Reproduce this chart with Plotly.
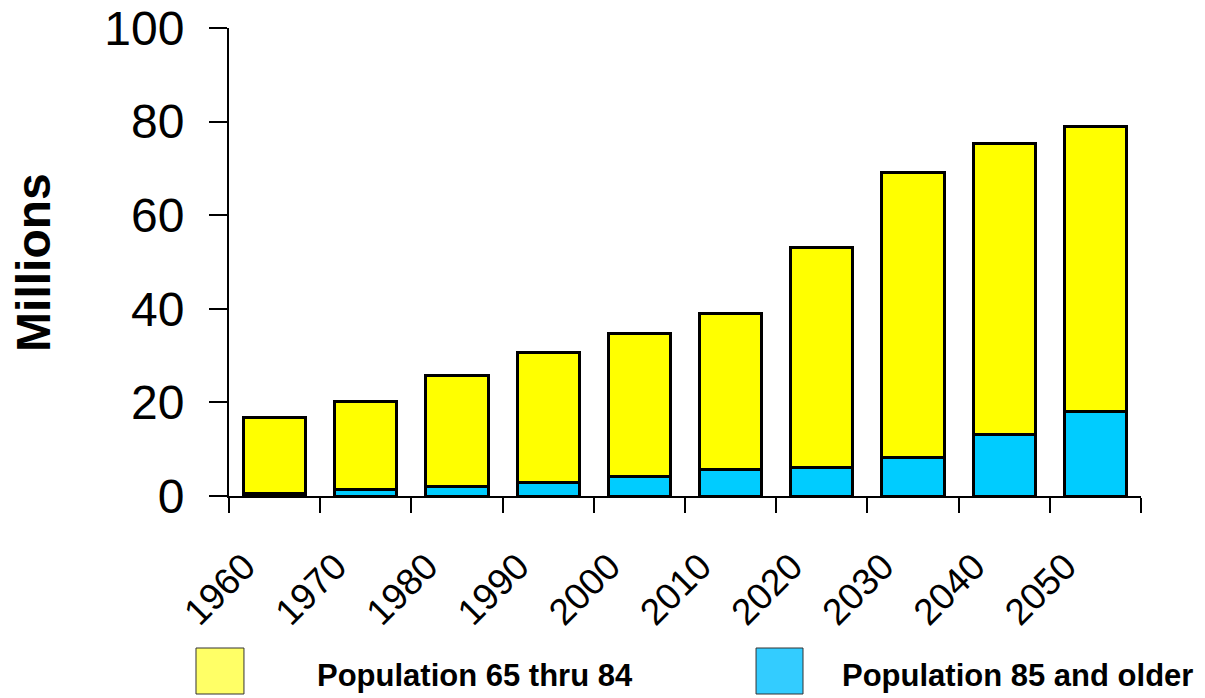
import plotly.graph_objects as go

years = ["1960", "1970", "1980", "1990", "2000", "2010", "2020", "2030", "2040", "2050"]
pop_85_older = [0.6, 1.4, 2.0, 2.8, 4.1, 5.6, 6.1, 8.2, 13.2, 18.0]
pop_65_84 = [16.1, 18.7, 23.7, 27.8, 30.7, 33.5, 46.9, 60.9, 62.2, 60.9]
y_ticks = [0, 20, 40, 60, 80, 100]

FONT = "Liberation Sans, Arial, sans-serif"

fig = go.Figure()
fig.add_trace(go.Bar(x=years, y=pop_85_older, name="Population 85 and older",
                     marker=dict(color="#00CCFF", line=dict(color="black", width=3))))
fig.add_trace(go.Bar(x=years, y=pop_65_84, name="Population 65 thru 84",
                     marker=dict(color="#FFFF00", line=dict(color="black", width=3))))

fig.update_layout(
    width=1205, height=698,
    margin=dict(l=229, r=64, t=28, b=202),
    barmode="stack", bargap=0.32,
    plot_bgcolor="white", paper_bgcolor="white",
    showlegend=False,
    font=dict(family=FONT, color="black"),
)
fig.update_yaxes(range=[0, 100], tickvals=y_ticks, ticks="outside", ticklen=18, tickwidth=2,
                 tickcolor="black", showline=True, linecolor="black", linewidth=2,
                 showgrid=False, zeroline=False, tickfont=dict(size=48, family=FONT),
                 ticklabelstandoff=15, automargin=False)
fig.update_xaxes(ticks="outside", tickson="boundaries", ticklen=15, tickwidth=2, tickcolor="black",
                 showline=True, linecolor="black", linewidth=2, showgrid=False,
                 tickangle=-45, tickfont=dict(size=37, family=FONT),
                 ticklabelstandoff=32, ticklabelshift=-30, automargin=False)

fig.add_annotation(text="<b>Millions</b>", textangle=-90, xref="paper", yref="paper",
                   x=-0.215, y=0.5, xanchor="center", yanchor="middle", showarrow=False,
                   font=dict(size=48, family=FONT, color="black"))

# legend boxes
fig.add_shape(type="rect", xref="paper", yref="paper", x0=-0.0362, x1=0.0164, y0=-0.4231, y1=-0.3248,
              fillcolor="#FFFF66", line=dict(color="#333333", width=1))
fig.add_shape(type="rect", xref="paper", yref="paper", x0=0.5779, x1=0.6294, y0=-0.4231, y1=-0.3248,
              fillcolor="#33CCFF", line=dict(color="#333333", width=1))
fig.add_annotation(text="<b>Population 65 thru 84</b>", xref="paper", yref="paper", x=0.0943, y=-0.3825,
                   xanchor="left", yanchor="middle", showarrow=False,
                   font=dict(size=31, family=FONT, color="black"))
fig.add_annotation(text="<b>Population 85 and older</b>", xref="paper", yref="paper", x=0.670, y=-0.3825,
                   xanchor="left", yanchor="middle", showarrow=False,
                   font=dict(size=31, family=FONT, color="black"))

fig.write_html("out.html")
